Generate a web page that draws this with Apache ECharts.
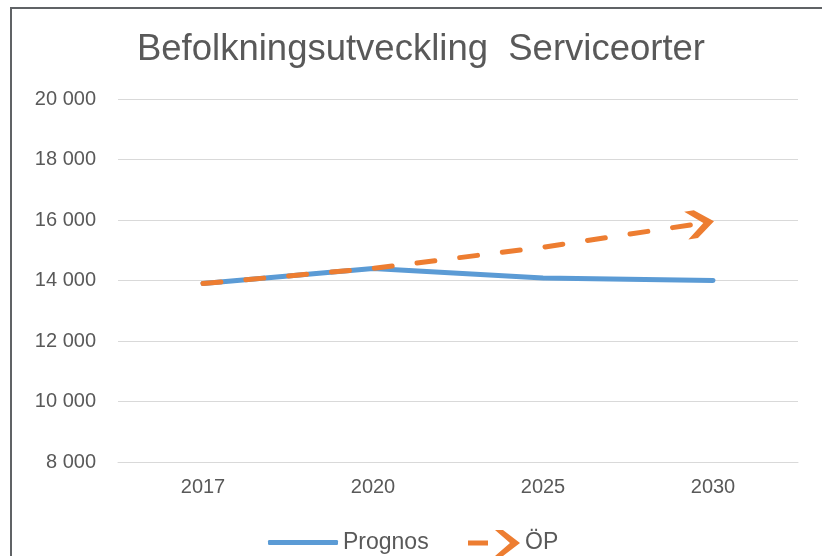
<!DOCTYPE html>
<html>
<head>
<meta charset="utf-8">
<script src="https://cdn.jsdelivr.net/npm/echarts@6/dist/echarts.min.js"></script>
<style>
  html, body { margin: 0; padding: 0; background: #fff; }
  #frame { position: absolute; left: 10px; top: 7px; width: 830px; height: 560px;
           border-left: 2px solid #606366; border-top: 2px solid #606366; }
  #chart { position: absolute; left: 0; top: 0; width: 822px; height: 556px; }
</style>
</head>
<body>
<div id="frame"></div>
<div id="chart"></div>
<script>
// Categories and series values
const years = ['2017', '2020', '2025', '2030'];
const prognos = [13900, 14400, 14080, 14000];
const op = [13900, 14400, 15100, 15950];
const yTicks = { min: 8000, max: 20000, step: 2000 };

const textColor = '#595959';
const fontFamily = '"Liberation Sans", Arial, sans-serif';
const blue = '#5B9BD5';
const orange = '#ED7D31';

// Thick chevron arrow head, pointing right
const chevron = 'path://M0,0 L9,0 L26,13 L9,26 L0,26 L16,13 Z';
// Legend icon for ÖP: a dash followed by the chevron
const opIcon = 'path://M0,10.5 L20,10.5 L20,15.5 L0,15.5 Z M27,0 L35,0 L52,13 L35,26 L27,26 L42,13 Z';

function fmt(v) {
  return String(v).replace(/\B(?=(\d{3})+(?!\d))/g, ' ');
}

const chart = echarts.init(document.getElementById('chart'), null, { renderer: 'canvas' });

function buildOption(arrowRotate, arrowOffset) {
  const opData = op.map((v, i) => i === op.length - 1
    ? { value: v, symbol: chevron, symbolSize: [28, 28], symbolRotate: arrowRotate, symbolOffset: arrowOffset }
    : { value: v, symbol: 'none' });
  return {
    animation: false,
    backgroundColor: 'transparent',
    textStyle: { fontFamily: fontFamily },
    title: {
      text: 'Befolkningsutveckling  Serviceorter',
      left: 416, top: 26, textAlign: 'center',
      textStyle: { color: textColor, fontSize: 36.5, fontWeight: 'normal', fontFamily: fontFamily }
    },
    grid: { left: 118, right: 24, top: 99, bottom: 94, outerBoundsMode: 'none' },
    legend: [
      {
        data: [{ name: 'Prognos', icon: 'roundRect' }],
        left: 268, top: 531, padding: 0,
        itemWidth: 70, itemHeight: 5,
        textStyle: { color: textColor, fontSize: 23, fontFamily: fontFamily },
        selectedMode: false
      },
      {
        data: [{ name: 'ÖP', icon: opIcon }],
        left: 468, top: 530, padding: 0,
        itemWidth: 52, itemHeight: 26,
        textStyle: { color: textColor, fontSize: 23, fontFamily: fontFamily },
        selectedMode: false
      }
    ],
    xAxis: {
      type: 'category',
      data: years,
      boundaryGap: true,
      axisLine: { show: true, lineStyle: { color: '#D9D9D9', width: 1 } },
      axisTick: { show: false },
      axisLabel: { color: textColor, fontSize: 20, margin: 15, fontFamily: fontFamily }
    },
    yAxis: {
      type: 'value',
      min: yTicks.min, max: yTicks.max, interval: yTicks.step,
      axisLine: { show: false },
      axisTick: { show: false },
      splitLine: { lineStyle: { color: '#D9D9D9', width: 1 } },
      axisLabel: { color: textColor, fontSize: 20, margin: 22, fontFamily: fontFamily, formatter: fmt }
    },
    series: [
      {
        name: 'Prognos', type: 'line', data: prognos,
        symbol: 'none', silent: true,
        lineStyle: { color: blue, width: 5, cap: 'round', join: 'round' },
        itemStyle: { color: blue }
      },
      {
        name: 'ÖP', type: 'line', data: opData,
        symbol: 'none', silent: true, z: 3,
        lineStyle: { color: orange, width: 5, type: [18, 25], cap: 'round', join: 'round' },
        itemStyle: { color: orange }
      }
    ]
  };
}

chart.setOption(buildOption(0, [0, 0]));

// Orient the arrow head along the last ÖP segment, with its tip on the data point
const n = op.length;
const p1 = chart.convertToPixel({ gridIndex: 0 }, [years[n - 2], op[n - 2]]);
const p2 = chart.convertToPixel({ gridIndex: 0 }, [years[n - 1], op[n - 1]]);
const dx = p2[0] - p1[0], dy = p2[1] - p1[1];
const len = Math.sqrt(dx * dx + dy * dy);
const ux = dx / len, uy = dy / len;
const angle = Math.atan2(-dy, dx) * 180 / Math.PI;
const back = 13;
chart.setOption(buildOption(angle, [-back * ux, -back * uy]));
</script>
</body>
</html>
